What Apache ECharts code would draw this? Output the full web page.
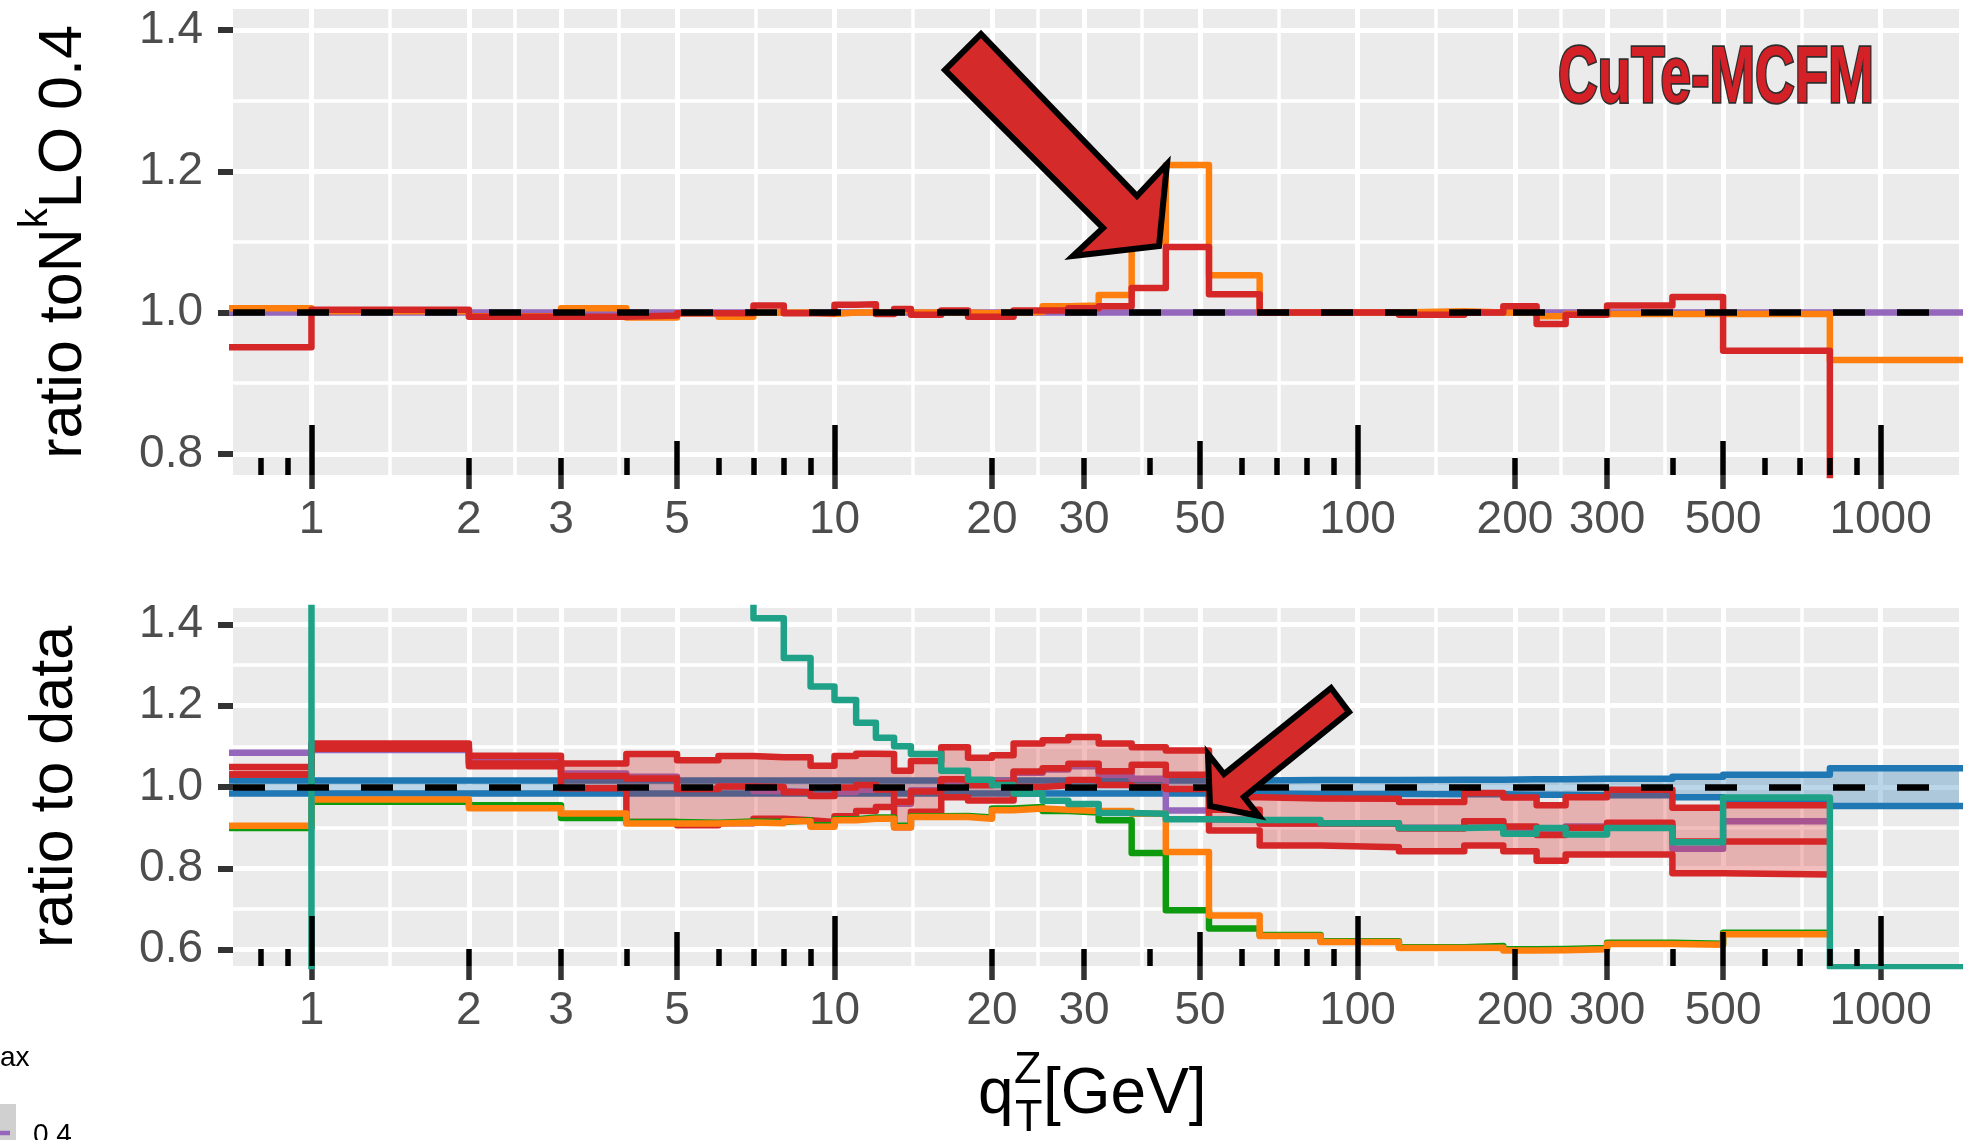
<!DOCTYPE html>
<html>
<head>
<meta charset="utf-8">
<script src="https://cdn.jsdelivr.net/npm/echarts@6/dist/echarts.min.js"></script>
<style>
  html, body { margin: 0; padding: 0; background: #ffffff; }
  #chart { width: 1987px; height: 1140px; }
</style>
</head>
<body>
<div id="chart"></div>
<script>
// ---- q_T bin edges [GeV] ----
const binEdges = [0, 1, 2, 3, 4, 5, 6, 7, 8, 9, 10, 11, 12, 13, 14, 16, 18, 20, 22, 25, 28,
  32, 37, 43, 52, 65, 85, 120, 160, 190, 220, 250, 300, 400, 500, 800, 1500];

// ---- axis breaks ----
const xBreaks = [1, 2, 3, 5, 10, 20, 30, 50, 100, 200, 300, 500, 1000];
const logTicksLong = [1, 10, 100, 1000];
const logTicksMid = [5, 50, 500];
const logTicksShort = [0.8, 0.9, 2, 3, 4, 6, 7, 8, 9, 20, 30, 40, 60, 70, 80, 90,
  200, 300, 400, 600, 700, 800, 900];
const yTicksTop = [0.8, 1.0, 1.2, 1.4];
const yMinorTop = [0.9, 1.1, 1.3];
const yTicksBottom = [0.6, 0.8, 1.0, 1.2, 1.4];
const yMinorBottom = [0.7, 0.9, 1.1, 1.3];

// ---- upper panel: ratio to the 0.4 curve ----
const topPurple = [1.000, 1.000, 1.000, 1.000, 1.000, 1.000, 1.000, 1.000, 1.000, 1.000, 1.000, 1.000,
  1.000, 1.000, 1.000, 1.000, 1.000, 1.000, 1.000, 1.000, 1.000, 1.000, 1.000, 1.000,
  1.000, 1.000, 1.000, 1.000, 1.000, 1.000, 1.000, 1.000, 1.000, 1.000, 1.000, 1.000];
const topOrange = [1.006, 1.002, 0.995, 1.006, 0.993, 0.999, 0.994, 1.000, 1.000, 0.998, 1.000, 1.000,
  1.000, 1.003, 1.000, 1.000, 0.999, 1.000, 1.001, 1.009, 1.010, 1.025, 1.100, 1.209,
  1.053, 1.000, 1.000, 1.002, 1.000, 1.000, 0.995, 0.998, 0.998, 0.998, 0.998, 0.933];
const topRed = [0.951, 1.004, 0.994, 0.994, 0.996, 0.999, 0.999, 1.010, 0.999, 0.999, 1.011, 1.012,
  0.998, 1.005, 0.997, 1.003, 0.994, 0.994, 1.003, 1.003, 1.006, 1.009, 1.035, 1.093,
  1.026, 1.000, 1.000, 0.997, 1.000, 1.009, 0.984, 0.997, 1.010, 1.022, 0.946, 0.600];

// ---- lower panel: ratio to data ----
const dataUp = [1.016, 1.016, 1.016, 1.016, 1.016, 1.016, 1.016, 1.016, 1.016, 1.016, 1.016, 1.016,
  1.016, 1.016, 1.016, 1.016, 1.016, 1.016, 1.016, 1.016, 1.016, 1.016, 1.016, 1.016,
  1.016, 1.017, 1.017, 1.018, 1.018, 1.019, 1.019, 1.020, 1.020, 1.025, 1.030, 1.046];
const dataLo = [0.984, 0.984, 0.984, 0.984, 0.984, 0.984, 0.984, 0.984, 0.984, 0.984, 0.984, 0.984,
  0.984, 0.984, 0.984, 0.984, 0.984, 0.984, 0.984, 0.984, 0.984, 0.984, 0.984, 0.984,
  0.984, 0.983, 0.983, 0.982, 0.982, 0.981, 0.981, 0.980, 0.980, 0.975, 0.970, 0.953];
const bandUp = [1.049, 1.107, 1.077, 1.058, 1.081, 1.066, 1.076, 1.073, 1.073, 1.052, 1.076, 1.082,
  1.081, 1.040, 1.064, 1.098, 1.072, 1.078, 1.107, 1.115, 1.123, 1.107, 1.098, 1.090,
  0.975, 0.972, 0.971, 0.963, 0.985, 0.974, 0.955, 0.975, 0.993, 0.949, 0.955, null];
const bandLo = [1.031, 1.094, 1.051, 0.997, 0.914, 0.906, 0.911, 0.922, 0.918, 0.914, 0.928, 0.941,
  0.951, 0.901, 0.939, 0.975, 0.967, 0.967, 1.000, 1.004, 1.017, 1.005, 1.000, 0.995,
  0.893, 0.856, 0.852, 0.842, 0.856, 0.842, 0.819, 0.834, 0.834, 0.788, 0.785, null];
const redCentral = [1.031, 1.097, 1.058, 1.027, 1.021, 0.995, 1.001, 1.000, 0.987, 0.978, 0.999, 1.005,
  0.994, 0.964, 0.989, 1.019, 1.004, 1.009, 1.038, 1.046, 1.057, 1.039, 1.055, 1.030,
  0.944, 0.910, 0.910, 0.898, 0.916, 0.903, 0.882, 0.900, 0.912, 0.866, 0.866, null];
const purpleData = [1.084, 1.091, 1.064, 1.033, 1.025, 0.996, 1.002, 0.990, 0.988, 0.979, 0.988, 0.993,
  0.996, 0.959, 0.992, 1.016, 1.010, 1.015, 1.035, 1.043, 1.051, 1.030, 1.020, 0.942,
  0.920, 0.910, 0.910, 0.900, 0.916, 0.895, 0.896, 0.903, 0.904, 0.848, 0.916, null];
const orangeData = [0.905, 0.969, 0.948, 0.935, 0.910, 0.910, 0.913, 0.911, 0.916, 0.902, 0.918, 0.922,
  0.922, 0.901, 0.926, 0.926, 0.922, 0.943, 0.947, 0.944, 0.941, 0.941, 0.934, 0.840,
  0.684, 0.634, 0.619, 0.604, 0.605, 0.598, 0.599, 0.601, 0.614, 0.612, 0.638, null];
const greenData = [0.899, 0.964, 0.955, 0.924, 0.914, 0.912, 0.915, 0.914, 0.918, 0.906, 0.921, 0.925,
  0.925, 0.905, 0.928, 0.929, 0.925, 0.947, 0.951, 0.941, 0.937, 0.918, 0.838, 0.697,
  0.652, 0.636, 0.621, 0.606, 0.609, 0.601, 0.602, 0.604, 0.617, 0.615, 0.642, null];
const tealData = [0.300, 3.000, 2.500, 2.100, 1.850, 1.650, 1.520, 1.415, 1.317, 1.247, 1.214, 1.158,
  1.121, 1.100, 1.081, 1.040, 1.018, 1.005, 0.984, 0.966, 0.958, 0.936, 0.934, 0.921,
  0.919, 0.919, 0.911, 0.899, 0.901, 0.885, 0.899, 0.883, 0.899, 0.864, 0.974, 0.557];

// ---- styling ----
const FONT = '"Liberation Sans", Arial, Helvetica, sans-serif';
const C = {
  purple: '#9467BD', orange: '#FF7F0E', red: '#D62728', blue: '#1F77B4',
  green: '#0E9A0E', teal: '#1FA187', panel: '#EBEBEB'
};
const LW = 6.5;                       // width of the histogram outlines
const X_MIN = -0.15, X_MAX = 3.15;    // log10(q_T) range of both panels
const lg = v => Math.log10(v);

// lower edge 0 has no log position: the first bin opens from beyond the left border
function edgePos(i) {
  const e = binEdges[i];
  return e > 0 ? Math.log10(e) : X_MIN - 1;
}

// histogram outline: each bin contributes its two corners; a missing bin breaks the line
function stepPoints(values) {
  const pts = [];
  values.forEach((v, i) => {
    if (v == null) { pts.push([edgePos(i), '-']); return; }
    pts.push([edgePos(i), v], [edgePos(i + 1), v]);
  });
  return pts;
}

function stepLine(values, xIdx, yIdx, color, width, z, extra) {
  return Object.assign({
    type: 'line', xAxisIndex: xIdx, yAxisIndex: yIdx, data: stepPoints(values),
    symbol: 'none', showSymbol: false, silent: true, z: z, clip: true,
    lineStyle: { color: color, width: width, cap: 'butt', join: 'round' }
  }, extra || {});
}

// filled band between two histograms
function bandFill(lo, hi, xIdx, yIdx, fill, z) {
  return {
    type: 'custom', xAxisIndex: xIdx, yAxisIndex: yIdx, z: z, silent: true, clip: true,
    data: [[0, 1]],
    renderItem: function (params, api) {
      const children = [];
      let upper = [], lower = [];
      const flush = () => {
        if (upper.length) {
          children.push({ type: 'polygon', shape: { points: upper.concat(lower.slice().reverse()) },
            style: { fill: fill } });
        }
        upper = []; lower = [];
      };
      for (let i = 0; i < lo.length; i++) {
        if (lo[i] == null || hi[i] == null) { flush(); continue; }
        const x0 = edgePos(i), x1 = edgePos(i + 1);
        upper.push(api.coord([x0, hi[i]]), api.coord([x1, hi[i]]));
        lower.push(api.coord([x0, lo[i]]), api.coord([x1, lo[i]]));
      }
      flush();
      return { type: 'group', children: children };
    }
  };
}

const refLine = {
  silent: true, z: 20, symbol: ['none', 'none'], label: { show: false },
  lineStyle: { color: '#000000', width: 6.5, type: [32, 32] },
  data: [{ yAxis: 1 }]
};

// ---- axes ----
const minorX = xBreaks.slice(1).map((b, i) => (lg(b) + lg(xBreaks[i])) / 2);

function xAxesFor(g) {
  const base = () => ({
    type: 'value', gridIndex: g, min: X_MIN, max: X_MAX, position: 'bottom', offset: 0, silent: true,
    axisLine: { show: false, onZero: false }, axisLabel: { show: false },
    splitLine: { show: false }, axisTick: { show: false }, axisPointer: { show: false }
  });
  const logTick = (vals, len) => Object.assign(base(), {
    z: 10,
    axisTick: { show: true, inside: true, customValues: vals.map(lg), length: len,
      lineStyle: { color: '#000000', width: 5.5 } }
  });
  return [
    Object.assign(base(), {
      axisTick: { show: true, customValues: xBreaks.map(lg), length: 14,
        lineStyle: { color: '#333333', width: 5.5 } },
      axisLabel: { show: true, customValues: xBreaks.map(lg), margin: 22,
        formatter: v => String(Math.round(Math.pow(10, v))),
        fontSize: 46, fontFamily: FONT, color: '#4D4D4D' },
      splitLine: { show: true, lineStyle: { color: '#FFFFFF', width: 5 } }
    }),
    Object.assign(base(), {
      axisTick: { show: false, customValues: minorX },
      splitLine: { show: true, lineStyle: { color: '#FFFFFF', width: 3.5 } }
    }),
    logTick(logTicksLong, 50),
    logTick(logTicksMid, 34),
    logTick(logTicksShort, 17)
  ];
}

function yAxesFor(g, min, max, ticks, minor, name, nameGap, nameStyle) {
  return [
    {
      type: 'value', gridIndex: g, min: min, max: max, position: 'left', silent: true,
      axisLine: { show: false, onZero: false },
      axisTick: { show: true, customValues: ticks, length: 15, lineStyle: { color: '#333333', width: 6 } },
      axisLabel: { customValues: ticks, formatter: v => v.toFixed(1), margin: 30,
        fontSize: 46, fontFamily: FONT, color: '#4D4D4D' },
      splitLine: { show: true, lineStyle: { color: '#FFFFFF', width: 5 } },
      name: name, nameLocation: 'middle', nameGap: nameGap, nameTextStyle: nameStyle
    },
    {
      type: 'value', gridIndex: g, min: min, max: max, position: 'left', silent: true,
      axisLine: { show: false, onZero: false }, axisTick: { show: false, customValues: minor },
      axisLabel: { show: false },
      splitLine: { show: true, lineStyle: { color: '#FFFFFF', width: 3.5 } }
    }
  ];
}

const titleStyle = { fontSize: 61, fontFamily: FONT, color: '#000000' };

// ---- annotations ----
const arrowTop = [[981, 34], [1137, 196], [1167, 164], [1159, 246], [1073, 256], [1103, 228], [945, 70]];
const arrowBottom = [[1331, 688], [1224, 774], [1208, 754], [1210, 806], [1259, 816], [1244, 797], [1349, 712]];
const arrowStyle = { fill: '#D42A2A', stroke: '#000000', lineWidth: 6, lineJoin: 'miter' };

const option = {
  animation: false,
  backgroundColor: '#FFFFFF',
  grid: [
    { left: 233, top: 9, width: 1726, height: 466, show: true, backgroundColor: C.panel, borderWidth: 0 },
    { left: 233, top: 608, width: 1726, height: 358, show: true, backgroundColor: C.panel, borderWidth: 0 }
  ],
  xAxis: [...xAxesFor(0), ...xAxesFor(1)],
  yAxis: [
    ...yAxesFor(0, 0.77, 1.43, yTicksTop, yMinorTop, 'ratio toN{k|k}LO 0.4', 121,
      Object.assign({}, titleStyle, { rich: { k: { fontSize: 40, fontFamily: FONT, color: '#000000',
        padding: [0, 0, 56, 0] } } })),
    ...yAxesFor(1, 0.56, 1.44, yTicksBottom, yMinorBottom, 'ratio to data', 147, titleStyle)
  ],
  series: [
    // upper panel
    stepLine(topPurple, 0, 0, C.purple, LW, 2),
    stepLine(topOrange, 0, 0, C.orange, LW, 3),
    stepLine(topRed, 0, 0, C.red, LW, 4, { markLine: refLine }),
    // lower panel
    bandFill(dataLo, dataUp, 5, 2, 'rgba(31,119,180,0.3)', 1),
    stepLine(dataUp, 5, 2, C.blue, LW, 2),
    stepLine(dataLo, 5, 2, C.blue, LW, 2),
    stepLine(purpleData, 5, 2, C.purple, LW, 3),
    bandFill(bandLo, bandUp, 5, 2, 'rgba(214,39,40,0.3)', 4),
    stepLine(bandUp, 5, 2, C.red, LW, 5),
    stepLine(bandLo, 5, 2, C.red, LW, 5),
    stepLine(redCentral, 5, 2, C.red, LW, 5),
    stepLine(greenData, 5, 2, C.green, LW, 6),
    stepLine(orangeData, 5, 2, C.orange, LW, 7),
    stepLine(tealData, 5, 2, C.teal, LW, 8, { markLine: refLine })
  ],
  graphic: [
    { type: 'polygon', z: 100, silent: true, shape: { points: arrowTop }, style: arrowStyle },
    { type: 'polygon', z: 100, silent: true, shape: { points: arrowBottom }, style: arrowStyle },
    { type: 'text', z: 100, silent: true, x: 1716, y: 80, scaleX: 0.686,
      style: { text: 'CuTe-MCFM', font: 'bold 80px ' + FONT, fill: '#D42027', stroke: '#2E2E2E',
        lineWidth: 3.5, align: 'center', verticalAlign: 'middle' } },
    // x-axis title: q_T^Z [GeV]
    { type: 'text', z: 100, silent: true, x: 978, y: 1127,
      style: { text: 'q', font: '64px ' + FONT, fill: '#000', align: 'left', verticalAlign: 'bottom' } },
    { type: 'text', z: 100, silent: true, x: 1015, y: 1141,
      style: { text: 'T', font: '45px ' + FONT, fill: '#000', align: 'left', verticalAlign: 'bottom' } },
    { type: 'text', z: 100, silent: true, x: 1014, y: 1093,
      style: { text: 'Z', font: '45px ' + FONT, fill: '#000', align: 'left', verticalAlign: 'bottom' } },
    { type: 'text', z: 100, silent: true, x: 1043, y: 1127,
      style: { text: '[GeV]', font: '64px ' + FONT, fill: '#000', align: 'left', verticalAlign: 'bottom' } },
    // legend remnant at the lower-left border
    { type: 'text', z: 100, silent: true, x: 0, y: 1058,
      style: { text: 'ax', font: '28px ' + FONT, fill: '#000', align: 'left', verticalAlign: 'middle' } },
    { type: 'rect', z: 100, silent: true, shape: { x: 0, y: 1104, width: 16, height: 40 },
      style: { fill: '#D0D0D0' } },
    { type: 'line', z: 101, silent: true, shape: { x1: 0, y1: 1133, x2: 10, y2: 1133 },
      style: { stroke: C.purple, lineWidth: 4.5 } },
    { type: 'text', z: 100, silent: true, x: 33, y: 1121,
      style: { text: '0.4', font: '28px ' + FONT, fill: '#000', align: 'left', verticalAlign: 'top' } }
  ]
};

const chart = echarts.init(document.getElementById('chart'), null, { renderer: 'canvas' });
chart.setOption(option);
</script>
</body>
</html>
